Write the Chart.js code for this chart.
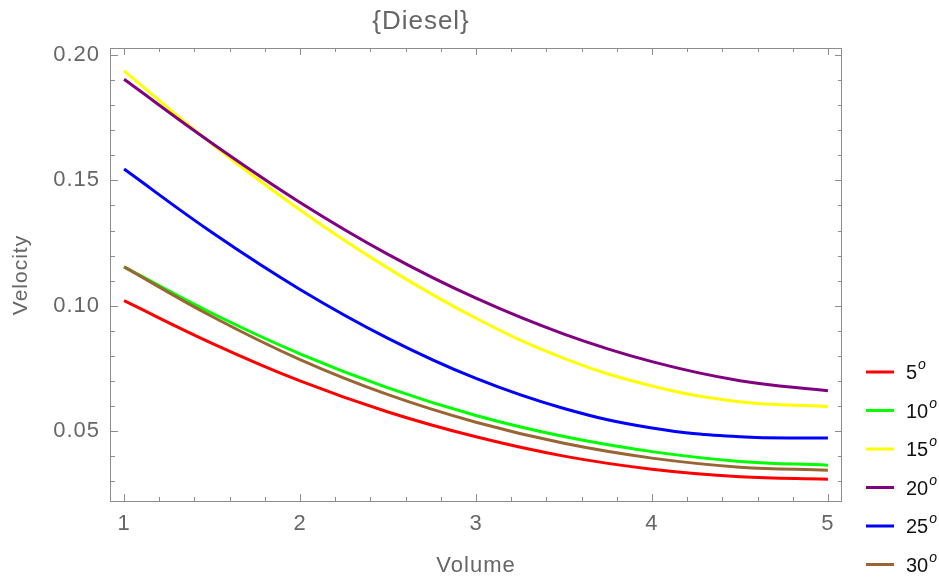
<!DOCTYPE html>
<html><head><meta charset="utf-8">
<script src="https://cdn.jsdelivr.net/npm/chart.js@4.4.1/dist/chart.umd.min.js"></script>
<style>html,body{margin:0;padding:0;background:#fff;overflow:hidden}#wrap{width:939px;height:579px;position:relative}</style>
</head><body><div id="wrap"><canvas id="c"></canvas></div>
<script>
// ---- data ----
const volume = [1, 1.5, 2, 2.5, 3, 3.5, 4, 4.5, 5];
const deg5  = [0.1020, 0.0850, 0.0700, 0.0576, 0.0477, 0.0400, 0.0348, 0.0318, 0.0308];
const deg10 = [0.1155, 0.0970, 0.0808, 0.0672, 0.0562, 0.0478, 0.0418, 0.0379, 0.0364];
const deg15 = [0.1937, 0.1645, 0.1382, 0.1150, 0.0950, 0.0790, 0.0680, 0.0617, 0.0598];
const deg20 = [0.1903, 0.1648, 0.1412, 0.1205, 0.1030, 0.0887, 0.0777, 0.0701, 0.0661];
const deg25 = [0.1545, 0.1292, 0.1065, 0.0870, 0.0710, 0.0590, 0.0512, 0.0477, 0.0472];
const deg30 = [0.1155, 0.0957, 0.0785, 0.0645, 0.0535, 0.0451, 0.0392, 0.0356, 0.0344];
const seriesValues = [deg5, deg10, deg15, deg20, deg25, deg30];
const seriesLabels = ['5', '10', '15', '20', '25', '30'];
const seriesColors = ['#ff0000', '#00ff00', '#ffff00', '#800080', '#0000ff', '#996633'];
const xTickValues = [1, 2, 3, 4, 5];
const yTickValues = [0.05, 0.10, 0.15, 0.20];
const titleText = '{Diesel}';
const xTitleText = 'Volume';
const yTitleText = 'Velocity';

const FONT = "'Liberation Sans', Arial, sans-serif";
const GRAY = '#666666';
const FRAME = '#8c8c8c';

const datasets = seriesValues.map((vals, i) => ({
  label: seriesLabels[i],
  data: volume.map((x, j) => ({x: x, y: vals[j]})),
  borderColor: seriesColors[i],
  backgroundColor: seriesColors[i],
  borderWidth: 3,
  pointRadius: 0,
  fill: false,
  tension: 0.4,
  order: seriesValues.length - i
}));

const framePlugin = {
  id: 'frameTicks',
  beforeDraw(chart) { chart.ctx.letterSpacing = '1px'; },
  afterDraw(chart) {
    const {ctx, chartArea: a, scales: {x, y}} = chart;
    ctx.save();
    ctx.letterSpacing = '0px';
    ctx.strokeStyle = FRAME;
    ctx.lineWidth = 1;
    ctx.strokeRect(a.left + 0.5, a.top + 0.5, a.right - a.left - 1, a.bottom - a.top - 1);
    ctx.beginPath();
    for (let k = 5; k <= 25; k++) {
      const v = k / 5;
      if (v < 1 || v > 5) continue;
      const px = Math.round(x.getPixelForValue(v)) + 0.5;
      const major = (k % 5 === 0);
      const lb = major ? 8 : 5, lt = major ? 7 : 4;
      ctx.moveTo(px, a.bottom); ctx.lineTo(px, a.bottom - lb);
      ctx.moveTo(px, a.top); ctx.lineTo(px, a.top + lt);
    }
    for (let k = 1; k <= 25; k++) {
      const v = k / 100;
      const py = y.getPixelForValue(v);
      if (py < a.top || py > a.bottom) continue;
      const pr = Math.round(py) + 0.5;
      const major = (k % 5 === 0);
      const ll = major ? 8 : 5, lr = major ? 7 : 4;
      ctx.moveTo(a.left, pr); ctx.lineTo(a.left + ll, pr);
      ctx.moveTo(a.right, pr); ctx.lineTo(a.right - lr, pr);
    }
    ctx.stroke();

    // legend
    const lx0 = a.right + 24, lx1 = a.right + 52, tx = a.right + 64;
    const y0 = a.bottom - 130, dy = 38.5;
    chart.data.datasets.forEach((ds, i) => {
      const yy = y0 + i * dy;
      ctx.strokeStyle = ds.borderColor;
      ctx.lineWidth = 3;
      ctx.beginPath(); ctx.moveTo(lx0, yy); ctx.lineTo(lx1, yy); ctx.stroke();
      ctx.fillStyle = '#111';
      ctx.textBaseline = 'alphabetic';
      ctx.textAlign = 'left';
      ctx.font = '20px ' + FONT;
      ctx.fillText(ds.label, tx, yy + 7);
      const w = ctx.measureText(ds.label).width;
      ctx.font = 'italic 14px ' + FONT;
      ctx.fillText('o', tx + w + 1, yy - 3);
    });
    ctx.restore();
  }
};

new Chart(document.getElementById('c'), {
  type: 'line',
  data: {datasets: datasets},
  options: {
    responsive: true,
    maintainAspectRatio: false,
    animation: false,
    layout: {padding: {left: 0, right: 97, top: 0, bottom: 0}},
    plugins: {
      legend: {display: false},
      tooltip: {enabled: false},
      title: {
        display: true, text: titleText, color: GRAY,
        font: {family: FONT, size: 26, weight: 'normal', lineHeight: 1.1},
        padding: {top: 8, bottom: 11.4}
      }
    },
    scales: {
      x: {
        type: 'linear', min: 0.92, max: 5.08,
        afterBuildTicks: s => { s.ticks = xTickValues.map(v => ({value: v})); },
        afterFit: s => { s.height = 77; },
        grid: {display: false, drawTicks: false},
        border: {display: false},
        ticks: {color: GRAY, font: {family: FONT, size: 22}, padding: 9, maxRotation: 0,
                callback: v => String(v)},
        title: {display: true, text: xTitleText, color: GRAY,
                font: {family: FONT, size: 22}, padding: {top: 0, bottom: 0}}
      },
      y: {
        type: 'linear', min: 0.0217, max: 0.2028,
        afterBuildTicks: s => { s.ticks = yTickValues.map(v => ({value: v})); },
        afterFit: s => { s.width = 110; },
        grid: {display: false, drawTicks: false},
        border: {display: false},
        ticks: {color: GRAY, font: {family: FONT, size: 22}, padding: 10,
                callback: v => Number(v).toFixed(2)},
        title: {display: true, text: yTitleText, color: GRAY,
                font: {family: FONT, size: 21}, padding: {top: 9, bottom: 0}}
      }
    }
  },
  plugins: [framePlugin]
});
</script>
</body></html>
